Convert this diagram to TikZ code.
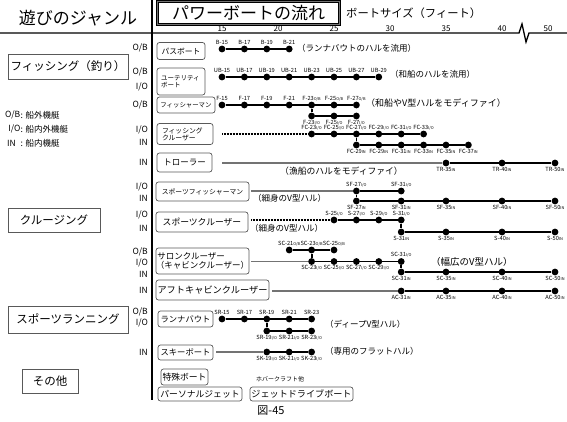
\documentclass[tikz,border=0pt]{standalone}
\usepackage{fontspec}
\setmainfont{Noto Sans CJK JP}
\newcommand\sx[1]{{\fontsize{3.9}{4}\selectfont #1}}
\newcommand\fs[1]{\fontsize{#1}{#1}\selectfont}
\begin{document}
\begin{tikzpicture}[x=1pt,y=-1pt,
  dot/.style={circle,fill=black,inner sep=0pt,minimum size=6.8pt},
  conn/.style={line width=1.8pt},
  gconn/.style={line width=1.3pt,black!55},
  dconn/.style={line width=1.3pt,dash pattern=on 0.6pt off 0.9pt},
  lab/.style={font=\fs{5.7},inner sep=0.4pt},
  rowbox/.style={draw=black!65,line width=0.7pt,rounded corners=2.5pt,inner sep=0pt},
  grpbox/.style={draw=black!65,line width=0.7pt,inner sep=0pt,font=\fs{11.5}},
  eng/.style={anchor=east,inner sep=0pt,font=\fs{8.5}},
  note/.style={anchor=west,inner sep=0pt,font=\fs{8.5}},
  tick/.style={inner sep=0pt,font=\fs{8}},
  legend/.style={inner sep=0pt,font=\fs{8.5}},
]
\useasboundingbox (0,0) rectangle (567,421);
\fill[white] (0,0) rectangle (567,421);

% header
\node[inner sep=0pt,font=\fs{17}] (genre) at (78,18) {遊びのジャンル};
\node[draw=black,line width=0.6pt,double=black!55,double distance=1.8pt,
      minimum width=182,minimum height=23,inner sep=0pt,font=\fs{17}] (title) at (248.5,13) {パワーボートの流れ};
\node[inner sep=0pt,anchor=west,font=\fs{11.3}] (size) at (346,13) {ボートサイズ（フィート）};
\foreach \t/\x in {15/222,20/278,25/334,30/390,35/446,40/502,50/548}
  \node[tick] (t\t) at (\x,29) {\t};
\draw[line width=1.3pt] (0,33) -- (519,33) -- (522,24) -- (526,42) -- (529,33) -- (567,33);
\draw[line width=1.3pt] (152,0) -- (152,400);

% left column
\node[grpbox,minimum width=120,minimum height=25] (gfish) at (68,66.5) {フィッシング（釣り）};
\node[grpbox,minimum width=92,minimum height=24] (gcruise) at (54,220) {クルージング};
\node[grpbox,minimum width=120,minimum height=27] (grun) at (68,319.5) {スポーツランニング};
\node[grpbox,minimum width=56,minimum height=24] (gother) at (50,381) {その他};

\node[legend,anchor=east] (lg1a) at (20.5,115) {O/B};
\node[legend,anchor=west] (lg1b) at (20.5,115) {: 船外機艇};
\node[legend,anchor=east] (lg2a) at (20.5,129) {I/O};
\node[legend,anchor=west] (lg2b) at (20.5,129) {: 船内外機艇};
\node[legend,anchor=west] (lg3a) at (7,143) {IN};
\node[legend,anchor=west] (lg3b) at (20.5,143) {: 船内機艇};

% engine labels
\node[eng] (e1) at (148,48) {O/B};
\node[eng] (e2) at (148,72) {O/B};
\node[eng] (e3) at (148,87) {I/O};
\node[eng] (e4) at (148,105) {O/B};
\node[eng] (e5) at (148,130) {I/O};
\node[eng] (e6) at (148,142) {IN};
\node[eng] (e7) at (148,162) {IN};
\node[eng] (e8) at (148,187) {I/O};
\node[eng] (e9) at (148,198) {IN};
\node[eng] (e10) at (148,215) {I/O};
\node[eng] (e11) at (148,228) {IN};
\node[eng] (e12) at (148,252) {O/B};
\node[eng] (e13) at (148,263) {I/O};
\node[eng] (e14) at (148,274) {IN};
\node[eng] (e15) at (148,290) {IN};
\node[eng] (e16) at (148,312) {O/B};
\node[eng] (e17) at (148,323) {I/O};
\node[eng] (e18) at (148,352) {IN};

% row boxes
\node[rowbox,minimum width=48,minimum height=17,font=\fs{7.8}] (bbox) at (181,51) {パスボート};
\node[rowbox,minimum width=48,minimum height=27,font=\fs{6.5},align=left,text width=40] (ubbox) at (181,81.5) {ユーテリティ\\ボート};
\node[rowbox,minimum width=58,minimum height=16,font=\fs{6.4}] (fbox) at (186,105) {フィッシャーマン};
\node[rowbox,minimum width=56,minimum height=21,font=\fs{6.8},align=left,text width=46] (fcbox) at (185,134) {フィッシング\\クルーザー};
\node[rowbox,minimum width=55,minimum height=19,font=\fs{8.5}] (trbox) at (184.5,162.5) {トローラー};
\node[rowbox,minimum width=93,minimum height=19,font=\fs{6.8}] (sfbox) at (202.5,191.5) {スポーツフィッシャーマン};
\node[rowbox,minimum width=92,minimum height=20,font=\fs{8.8}] (sbox) at (202,222) {スポーツクルーザー};
\node[rowbox,minimum width=93,minimum height=26,font=\fs{8.5},align=left] (scbox) at (202.5,261) {\,サロンクルーザー\\（キャビンクルーザー）};
\node[rowbox,minimum width=113,minimum height=20,font=\fs{9.2}] (acbox) at (212.5,290) {アフトキャビンクルーザー};
\node[rowbox,minimum width=55,minimum height=16,font=\fs{8.3}] (srbox) at (185.5,319) {ランナバウト};
\node[rowbox,minimum width=55,minimum height=15,font=\fs{8.3}] (skbox) at (185.5,352.5) {スキーボート};
\node[rowbox,minimum width=47,minimum height=16,font=\fs{8.8}] (spbox) at (184.5,377) {特殊ボート};
\node[rowbox,minimum width=84,minimum height=14,font=\fs{8.8}] (pjbox) at (200,394) {パーソナルジェット};
\node[rowbox,minimum width=103,minimum height=14,font=\fs{9.1}] (jdbox) at (301.5,394) {ジェットドライブボート};
\node[inner sep=0pt,font=\fs{6}] (hover) at (280,379) {ホバークラフト他};
\node[inner sep=0pt,font=\fs{11}] (fig) at (271,411) {図-45};

% B
\foreach \f/\x in {15/222,17/244.4,19/266.8,21/289.2}
  \node[dot,label={[lab]above:B-\f}] (b\f) at (\x,49) {};
\draw[conn] (b15)--(b21);
% UB
\foreach \f/\x in {15/222,17/244.4,19/266.8,21/289.2,23/311.6,25/334,27/356.4,29/378.8}
  \node[dot,label={[lab]above:UB-\f}] (ub\f) at (\x,77) {};
\draw[conn] (ub15)--(ub29);
% F
\foreach \f/\x in {15/222,17/244.4,19/266.8,21/289.2}
  \node[dot,label={[lab]above:F-\f}] (f\f) at (\x,105) {};
\foreach \f/\x in {23/311.6,25/334,27/356.4}
  \node[dot,label={[lab]above:F-\f\sx{O/B}}] (f\f) at (\x,105) {};
\foreach \f/\x in {23/311.6,25/334,27/356.4}
  \node[dot,label={[lab]below:F-\f\sx{I/O}}] (fi\f) at (\x,116) {};
\draw[conn] (f15)--(f27);
\draw[conn] (f23)--(fi23)--(fi27);
% FC
\coordinate (fcstart) at (222,134);
\foreach \f/\x in {23/311.6,25/334,27/356.4,29/378.8,31/401.2,33/423.6}
  \node[dot,label={[lab]above:FC-\f\sx{I/O}}] (fc\f) at (\x,134) {};
\foreach \f/\l/\x in {27/29/356.4,29/29/378.8,31/31/401.2,33/33/423.6,35/35/446,37/37/468.4}
  \node[dot,label={[lab]below:FC-\l\sx{IN}}] (fn\f) at (\x,145) {};
\draw[dconn] (fcstart)--(fc23);
\draw[conn] (fc23)--(fc33);
\draw[conn] (fc27)--(fn27)--(fn37);
% TR
\coordinate (trstart) at (222,163);
\foreach \f/\x in {35/446,40/502,50/555}
  \node[dot,label={[lab]below:TR-\f\sx{IN}}] (tr\f) at (\x,163) {};
\draw[gconn] (trstart)--(tr35);
\draw[conn] (tr35)--(tr50);
% SF
\coordinate (sfstart) at (251,191);
\foreach \f/\x in {27/356.4,31/401.2}
  \node[dot,label={[lab]above:SF-\f\sx{I/O}}] (sft\f) at (\x,191) {};
\foreach \f/\x in {27/356.4,31/401.2,35/446,40/502,50/555}
  \node[dot,label={[lab]below:SF-\f\sx{IN}}] (sf\f) at (\x,201) {};
\draw[gconn] (sfstart)--(sft27);
\draw[conn] (sft27)--(sft31);
\draw[conn] (sft27)--(sf27)--(sf50);
% S
\coordinate (sstart) at (251,220);
\foreach \f/\x in {25/334,27/356.4,29/378.8,31/401.2}
  \node[dot,label={[lab]above:S-\f\sx{I/O}}] (st\f) at (\x,220) {};
\foreach \f/\x in {31/401.2,35/446,40/502,50/555}
  \node[dot,label={[lab]below:S-\f\sx{IN}}] (s\f) at (\x,232) {};
\draw[dconn] (sstart)--(st25);
\draw[conn] (st25)--(st31)--(s31)--(s50);
% SC
\foreach \f/\x in {21/289.2,23/311.6,25/334}
  \node[dot,label={[lab]above:SC-\f\sx{O/B}}] (sco\f) at (\x,250) {};
\coordinate (scstart) at (251,261.5);
\foreach \f/\x in {23/311.6,25/334,27/356.4,29/378.8}
  \node[dot,label={[lab]below:SC-\f\sx{I/O}}] (sci\f) at (\x,261.5) {};
\node[dot,label={[lab]above:SC-31\sx{I/O}}] (sci31) at (401.2,261.5) {};
\foreach \f/\x in {31/401.2,35/446,40/502,50/555}
  \node[dot,label={[lab]below:SC-\f\sx{IN}}] (sc\f) at (\x,272) {};
\draw[gconn] (scstart)--(sci23);
\draw[conn] (sco21)--(sco25);
\draw[conn] (sco23)--(sci23)--(sci31)--(sc31)--(sc50);
% AC
\coordinate (acstart) at (272,291);
\foreach \f/\x in {31/401.2,35/446,40/502,50/555}
  \node[dot,label={[lab]below:AC-\f\sx{IN}}] (ac\f) at (\x,291) {};
\draw[gconn] (acstart)--(ac31);
\draw[conn] (ac31)--(ac50);
% SR
\foreach \f/\x in {15/222,17/244.4,19/266.8,21/289.2,23/311.6}
  \node[dot,label={[lab]above:SR-\f}] (sr\f) at (\x,319) {};
\foreach \f/\x in {19/266.8,21/289.2,23/311.6}
  \node[dot,label={[lab]below:SR-\f\sx{I/O}}] (sri\f) at (\x,331) {};
\draw[conn] (sr15)--(sr23);
\draw[conn] (sr19)--(sri19)--(sri23);
% SK
\coordinate (skstart) at (216,352);
\foreach \f/\x in {19/266.8,21/289.2,23/311.6}
  \node[dot,label={[lab]below:SK-\f\sx{I/O}}] (sk\f) at (\x,352) {};
\draw[gconn] (skstart)--(sk19);
\draw[conn] (sk19)--(sk23);

% notes
\node[note] (n1) at (297,48.5) {（ランナバウトのハルを流用）};
\node[note] (n2) at (390,74) {（和船のハルを流用）};
\node[note,font=\fs{9}] (n3) at (366,103) {（和船やV型ハルをモディファイ）};
\node[note,font=\fs{8.8}] (n4) at (280,171) {（漁船のハルをモディファイ）};
\node[note] (n5) at (253,198) {（細身のV型ハル）};
\node[note] (n6) at (250,228) {（細身のV型ハル）};
\node[note,font=\fs{9.5}] (n7) at (431,262) {（幅広のV型ハル）};
\node[note] (n8) at (325,324) {（ディープV型ハル）};
\node[note] (n9) at (325,351) {（専用のフラットハル）};
\end{tikzpicture}
\end{document}
